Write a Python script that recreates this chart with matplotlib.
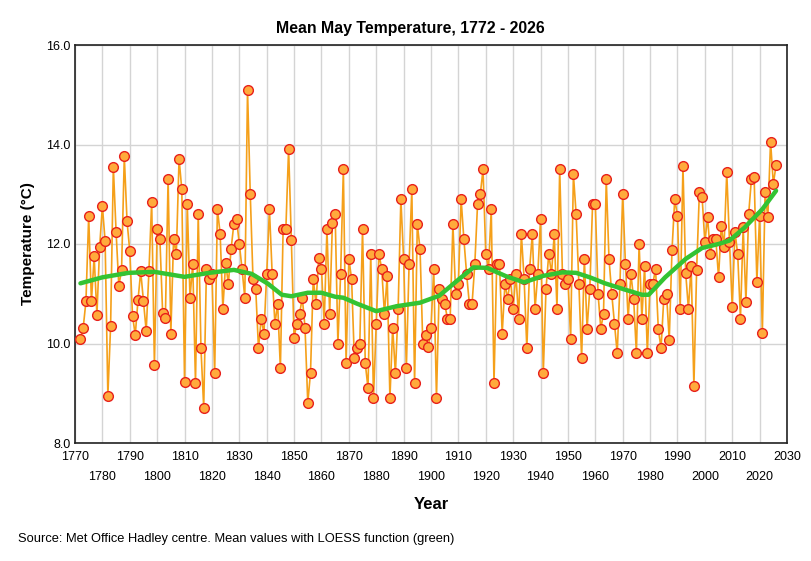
import numpy as np
import matplotlib
matplotlib.use("Agg")
import matplotlib.pyplot as plt

plt.rcParams['font.family'] = ['Liberation Sans', 'DejaVu Sans']

first_year = 1772
temps = [
    10.10, 10.32, 10.85, 12.56, 10.85, 11.75, 10.57, 11.94,                     # 1772-1779
    12.76, 12.06, 8.95, 10.35, 13.55, 12.25, 11.16, 11.47, 13.76, 12.46,        # 1780s
    11.86, 10.56, 10.17, 10.87, 11.45, 10.85, 10.25, 11.45, 12.85, 9.56,        # 1790s
    12.30, 12.10, 10.62, 10.52, 13.31, 10.20, 12.10, 11.80, 13.71, 13.10,       # 1800s
    9.23, 12.80, 10.92, 11.60, 9.20, 12.60, 9.90, 8.71, 11.50, 11.30,           # 1810s
    11.40, 9.41, 12.70, 12.21, 10.70, 11.62, 11.20, 11.90, 12.40, 12.50,        # 1820s
    12.00, 11.50, 10.92, 15.10, 13.00, 11.30, 11.10, 9.90, 10.50, 10.20,        # 1830s
    11.40, 12.70, 11.40, 10.40, 10.80, 9.50, 12.30, 12.30, 13.91, 12.09,        # 1840s
    10.12, 10.40, 10.60, 10.92, 10.32, 8.81, 9.41, 11.30, 10.80, 11.72,         # 1850s
    11.50, 10.40, 12.30, 10.60, 12.42, 12.60, 10.00, 11.40, 13.50, 9.60,        # 1860s
    11.70, 11.30, 9.70, 9.90, 10.00, 12.30, 9.60, 9.10, 11.80, 8.90,            # 1870s
    10.40, 11.80, 11.50, 10.60, 11.35, 8.90, 10.32, 9.40, 10.70, 12.90,         # 1880s
    11.70, 9.50, 11.60, 13.10, 9.20, 12.40, 11.90, 10.00, 10.17, 9.92,          # 1890s
    10.32, 11.50, 8.90, 11.10, 10.90, 10.80, 10.50, 10.50, 12.40, 11.00,        # 1900s
    11.20, 12.90, 12.10, 11.40, 10.80, 10.80, 11.60, 12.80, 13.00, 13.50,       # 1910s
    11.80, 11.50, 12.70, 9.20, 11.60, 11.60, 10.20, 11.20, 10.90, 11.30,        # 1920s
    10.70, 11.40, 10.50, 12.20, 11.30, 9.90, 11.50, 12.20, 10.70, 11.40,        # 1930s
    12.50, 9.40, 11.10, 11.80, 11.40, 12.20, 10.70, 13.50, 11.40, 11.20,        # 1940s
    11.30, 10.10, 13.40, 12.60, 11.20, 9.70, 11.70, 10.30, 11.10, 12.80,        # 1950s
    12.80, 11.00, 10.30, 10.60, 13.30, 11.70, 11.00, 10.40, 9.80, 11.20,        # 1960s
    13.00, 11.60, 10.50, 11.40, 10.90, 9.80, 12.00, 10.50, 11.55, 9.80,         # 1970s
    11.20, 11.20, 11.50, 10.30, 9.90, 10.90, 11.00, 10.07, 11.87, 12.90,        # 1980s
    12.57, 10.70, 13.56, 11.42, 10.70, 11.55, 9.14, 11.48, 13.04, 12.94,        # 1990s
    12.04, 12.54, 11.80, 12.10, 12.10, 11.33, 12.37, 11.94, 13.44, 12.05,       # 2000s
    10.73, 12.25, 11.79, 10.50, 12.34, 10.84, 12.60, 13.30, 13.34, 11.24,       # 2010s
    12.57, 10.22, 13.04, 12.54, 14.06, 13.21, 13.58,                            # 2020s
]
years = np.arange(first_year, first_year + len(temps))

loess_years = [1772, 1780, 1789.5, 1799, 1810, 1819, 1828, 1834.5, 1840.5, 1845.5,
               1849, 1855, 1860, 1865, 1868, 1873, 1880, 1887.5, 1896, 1903,
               1909.5, 1915.5, 1920.5, 1927.5, 1934, 1941, 1948, 1953, 1958, 1963.5,
               1971, 1977, 1979.5, 1985.5, 1993, 1999, 2005, 2009, 2014.5, 2021, 2026]
loess_vals = [11.21, 11.33, 11.42, 11.44, 11.34, 11.42, 11.48, 11.40, 11.20, 10.98,
              10.95, 11.02, 11.02, 10.94, 10.92, 10.80, 10.65, 10.75, 10.82, 10.96,
              11.26, 11.53, 11.52, 11.35, 11.23, 11.36, 11.43, 11.42, 11.33, 11.21,
              11.08, 10.98, 10.98, 11.33, 11.70, 11.92, 12.00, 12.07, 12.33, 12.70, 13.07]

fig = plt.figure(figsize=(8.11, 5.61), dpi=100)
ax = fig.add_axes([75/811, 1 - 443/561, (787 - 75)/811, (443 - 45)/561])

ax.plot(years, temps, color='#F5A01A', lw=1.2, zorder=2)
ax.plot(years, temps, linestyle='none', marker='o', markersize=7.0,
        markerfacecolor='#FFAA3C', markeredgecolor='#E8201A', markeredgewidth=1.0, zorder=3)
ax.plot(loess_years, loess_vals, color='#33C333', lw=3.2, solid_capstyle='round',
        solid_joinstyle='round', zorder=4)

ax.set_xlim(1770, 2030)
ax.set_ylim(8.0, 16.0)
ax.set_yticks([8, 10, 12, 14, 16])
ax.set_yticklabels(['8.0', '10.0', '12.0', '14.0', '16.0'], fontsize=9)
for lbl in ax.get_yticklabels():
    lbl.set_verticalalignment('center_baseline')
xt = list(range(1770, 2031, 10))
ax.set_xticks(xt)
ax.set_xticklabels([str(y) if i % 2 == 0 else '\n' + str(y) for i, y in enumerate(xt)],
                   fontsize=9, linespacing=1.9)
ax.tick_params(axis='both', length=0, pad=3)
ax.tick_params(axis='x', pad=6)
ax.grid(True, color='#D4D4D4', lw=1.0, zorder=0)
ax.set_axisbelow(True)
for s in ax.spines.values():
    s.set_color('#222222')
    s.set_linewidth(1.2)

ax.set_xlabel('Year', fontsize=12, fontweight='bold', labelpad=10)
ax.set_ylabel('Temperature (°C)', fontsize=11, fontweight='bold', labelpad=8)
fig.text(410/811, 1 - 28/561, 'Mean May Temperature, 1772 - 2026', ha='center', va='center',
         fontsize=11.4, fontweight='bold')
fig.text(18/811, 1 - 539/561, 'Source: Met Office Hadley centre. Mean values with LOESS function (green)',
         ha='left', va='center', fontsize=9.3)

fig.savefig('out.png', dpi=100)
